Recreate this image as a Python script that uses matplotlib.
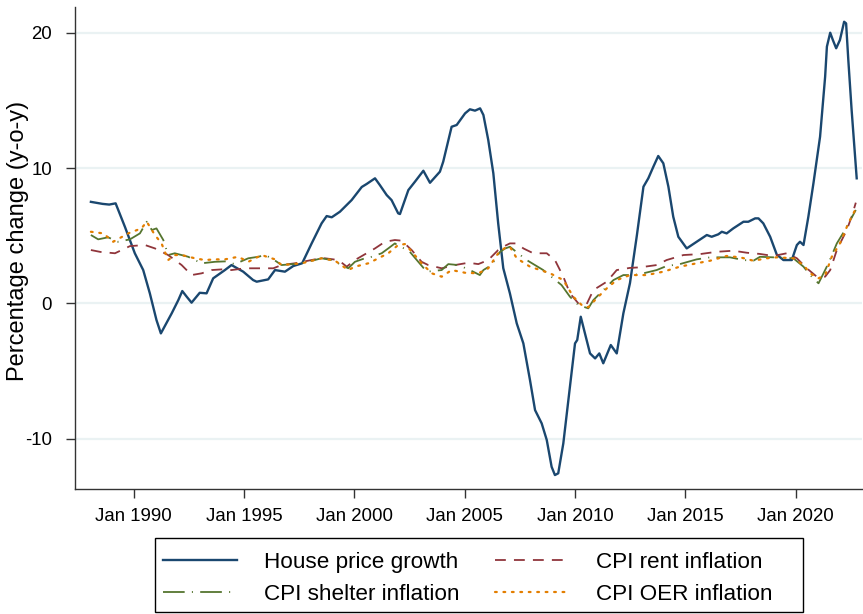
import matplotlib
matplotlib.use("Agg")
import matplotlib.pyplot as plt
from matplotlib.patches import Rectangle

plt.rcParams['font.family'] = ['Liberation Sans', 'DejaVu Sans']

# ---------------- data (decimal years, % y-o-y) ----------------
house_t = [1988.07, 1988.6, 1988.9, 1989.19, 1989.61, 1990.06, 1990.44, 1990.74, 1991.04, 1991.24,
           1991.73, 1992.03, 1992.21, 1992.41, 1992.63, 1993.0, 1993.31, 1993.61, 1994.14, 1994.44,
           1994.97, 1995.42, 1995.58, 1996.1, 1996.41, 1996.86, 1997.24, 1997.64, 1998.07, 1998.52,
           1998.75, 1998.98, 1999.35, 1999.88, 2000.34, 2000.56, 2000.94, 2001.16, 2001.47, 2001.69,
           2001.99, 2002.07, 2002.45, 2002.75, 2003.13, 2003.43, 2003.88, 2004.03, 2004.41, 2004.64,
           2005.02, 2005.24, 2005.47, 2005.70, 2005.85, 2006.07, 2006.30, 2006.52, 2006.75, 2007.05,
           2007.36, 2007.66, 2007.96, 2008.19, 2008.49, 2008.72, 2008.94, 2009.09, 2009.24, 2009.47,
           2009.77, 2010.0, 2010.1, 2010.26, 2010.45, 2010.68, 2010.91, 2011.1, 2011.28, 2011.62,
           2011.89, 2012.19, 2012.49, 2012.8, 2013.1, 2013.32, 2013.55, 2013.77, 2014.0, 2014.23,
           2014.45, 2014.68, 2015.06, 2015.51, 2015.97, 2016.19, 2016.49, 2016.65, 2016.87, 2017.17,
           2017.63, 2017.85, 2018.16, 2018.31, 2018.53, 2018.84, 2019.14, 2019.44, 2019.82, 2020.05,
           2020.19, 2020.35, 2020.57, 2020.80, 2021.10, 2021.33, 2021.41, 2021.56, 2021.68, 2021.83,
           2022.0, 2022.19, 2022.28, 2022.38, 2022.53, 2022.76]
house_v = [7.5, 7.35, 7.3, 7.39, 5.66, 3.7, 2.46, 0.74, -1.23, -2.22,
           -0.74, 0.24, 0.91, 0.49, 0.05, 0.78, 0.74, 1.85, 2.46, 2.83,
           2.34, 1.72, 1.6, 1.77, 2.46, 2.34, 2.76, 2.96, 4.43, 5.91,
           6.45, 6.36, 6.77, 7.63, 8.6, 8.82, 9.24, 8.74, 8.0, 7.63,
           6.65, 6.6, 8.37, 8.99, 9.8, 8.91, 9.73, 10.47, 13.05, 13.18,
           14.04, 14.34, 14.24, 14.41, 13.92, 12.07, 9.61, 5.91, 2.6, 0.74,
           -1.48, -2.96, -5.67, -7.89, -8.87, -10.1, -12.08, -12.69, -12.56, -10.35,
           -6.16, -2.96, -2.71, -0.99, -2.22, -3.70, -4.07, -3.70, -4.43, -3.08,
           -3.70, -0.74, 1.5, 5.0, 8.62, 9.24, 10.1, 10.89, 10.35, 8.62,
           6.4, 4.92, 4.06, 4.55, 5.05, 4.92, 5.1, 5.29, 5.17, 5.54,
           6.03, 6.03, 6.28, 6.28, 5.91, 4.92, 3.6, 3.2, 3.2, 4.31,
           4.55, 4.31, 6.4, 8.87, 12.31, 16.75, 18.97, 20.0, 19.46, 18.85,
           19.46, 20.81, 20.69, 17.98, 14.29, 9.24]

rent_t = [1988.07, 1988.5, 1989.16, 1989.84, 1990.52, 1990.97, 1991.57, 1992.18, 1992.63, 1993.09,
          1993.54, 1994.0, 1994.44, 1995.05, 1995.65, 1996.33, 1996.71, 1997.31, 1998.22, 1998.67,
          1999.28, 1999.66, 2000.03, 2000.56, 2000.94, 2001.39, 2001.84, 2002.15, 2002.6, 2003.05,
          2003.35, 2003.96, 2004.56, 2005.17, 2005.62, 2006.07, 2006.52, 2006.83, 2007.05, 2007.36,
          2007.66, 2008.11, 2008.72, 2009.09, 2009.47, 2009.77, 2010.15, 2010.53, 2010.83, 2011.44,
          2011.89, 2012.49, 2012.94, 2013.7, 2014.15, 2014.91, 2015.66, 2016.42, 2017.17, 2017.78,
          2018.38, 2018.98, 2019.59, 2020.05, 2020.5, 2020.95, 2021.33, 2021.56, 2021.86, 2022.31,
          2022.53, 2022.72]
rent_v = [3.94, 3.8, 3.7, 4.23, 4.31, 4.06, 3.57, 2.83, 2.09, 2.22,
          2.46, 2.51, 2.46, 2.59, 2.59, 2.59, 2.83, 2.96, 3.25, 3.33,
          3.2, 2.71, 3.2, 3.7, 4.06, 4.55, 4.68, 4.63, 3.94, 3.07,
          2.83, 2.59, 2.83, 3.0, 2.9, 3.2, 3.94, 4.25, 4.43, 4.43,
          4.06, 3.7, 3.7, 3.2, 1.97, 0.74, 0.0, -0.05, 0.98, 1.6,
          2.46, 2.62, 2.66, 2.83, 3.2, 3.57, 3.64, 3.81, 3.89, 3.74,
          3.65, 3.5, 3.7, 3.33, 2.59, 1.97, 1.97, 2.46, 3.94, 5.42,
          6.4, 7.44]

shelter_t = [1988.07, 1988.4, 1988.85, 1989.3, 1989.84, 1990.29, 1990.6, 1990.83, 1991.04, 1991.35,
             1991.57, 1991.87, 1992.48, 1992.78, 1993.09, 1993.69, 1994.14, 1994.59, 1995.2, 1995.65,
             1995.95, 1996.26, 1996.71, 1997.62, 1998.52, 1998.98, 1999.43, 1999.73, 2000.03, 2000.48,
             2000.79, 2001.24, 2001.54, 2001.84, 2002.07, 2002.45, 2002.9, 2003.28, 2003.96, 2004.26,
             2004.71, 2005.24, 2005.69, 2005.85, 2006.22, 2006.6, 2006.83, 2007.05, 2007.81, 2008.56,
             2009.39, 2009.77, 2010.15, 2010.6, 2010.83, 2011.21, 2011.74, 2012.19, 2012.64, 2013.1,
             2013.7, 2014.15, 2014.75, 2015.51, 2016.12, 2017.02, 2017.63, 2018.08, 2018.38, 2018.98,
             2019.89, 2020.35, 2020.65, 2021.03, 2021.18, 2021.48, 2021.86, 2022.23, 2022.72]
shelter_v = [5.05, 4.73, 4.88, 4.55, 4.73, 5.17, 6.03, 5.42, 5.54, 4.68,
             3.57, 3.7, 3.44, 3.2, 2.96, 3.07, 3.1, 2.9, 3.33, 3.44,
             3.57, 3.33, 2.83, 2.96, 3.33, 3.2, 2.83, 2.59, 3.07, 3.33,
             3.44, 3.7, 4.06, 4.43, 4.18, 3.94, 3.07, 2.34, 2.46, 2.9,
             2.83, 2.46, 2.09, 2.46, 2.83, 3.8, 4.05, 4.18, 3.2, 2.46,
             1.35, 0.49, -0.12, -0.37, 0.24, 0.86, 1.72, 2.09, 2.09, 2.22,
             2.46, 2.76, 2.9, 3.25, 3.4, 3.4, 3.2, 3.15, 3.44, 3.4,
             3.33, 2.71, 2.09, 1.48, 1.97, 2.96, 4.43, 5.42, 6.9]

oer_t = [1988.07, 1988.63, 1989.08, 1989.76, 1990.36, 1990.6, 1990.97, 1991.27, 1991.57, 1991.87,
         1992.18, 1992.78, 1993.23, 1993.69, 1994.14, 1994.74, 1995.2, 1995.8, 1996.41, 1996.71,
         1997.62, 1998.52, 1999.13, 1999.73, 2000.03, 2000.64, 2001.09, 2001.54, 2001.99, 2002.3,
         2002.67, 2003.05, 2003.51, 2003.96, 2004.41, 2005.02, 2005.62, 2006.07, 2006.52, 2006.83,
         2007.05, 2007.36, 2007.96, 2008.87, 2009.47, 2009.92, 2010.3, 2010.6, 2010.98, 2011.44,
         2011.89, 2012.49, 2013.25, 2014.0, 2014.75, 2015.51, 2016.12, 2016.87, 2017.48, 2018.08,
         2018.69, 2019.14, 2019.89, 2020.35, 2020.65, 2021.03, 2021.33, 2021.63, 2022.0, 2022.38,
         2022.69]
oer_v = [5.29, 5.17, 4.55, 5.17, 5.54, 6.03, 5.05, 4.43, 3.2, 3.57,
         3.57, 3.33, 3.2, 3.25, 3.25, 3.44, 3.07, 3.57, 3.25, 2.83,
         2.96, 3.33, 3.15, 2.46, 2.71, 2.96, 3.33, 3.7, 4.31, 4.38,
         3.7, 2.96, 2.22, 1.97, 2.46, 2.26, 2.22, 2.59, 3.7, 4.1,
         4.18, 3.33, 2.71, 2.22, 1.72, 0.49, -0.12, -0.29, 0.37, 1.11,
         1.72, 2.09, 2.09, 2.34, 2.71, 2.96, 3.15, 3.5, 3.4, 3.15,
         3.33, 3.4, 3.33, 2.83, 2.22, 1.85, 2.09, 3.44, 4.43, 5.91,
         6.9]

x_ticks = [1990, 1995, 2000, 2005, 2010, 2015, 2020]
x_ticklabels = ["Jan 1990", "Jan 1995", "Jan 2000", "Jan 2005", "Jan 2010", "Jan 2015", "Jan 2020"]
y_ticks = [-10, 0, 10, 20]
labels = ["House price growth", "CPI rent inflation", "CPI shelter inflation", "CPI OER inflation"]

# ---------------- styling ----------------
c_house = "#1a476f"
c_rent = "#90353b"
c_shelter = "#55752f"
c_oer = "#e37e00"

W, H = 863, 614
fig = plt.figure(figsize=(W / 100, H / 100), dpi=100)
fig.patch.set_facecolor("white")
ax = fig.add_axes([75 / W, 1 - 489 / H, (862 - 75) / W, (489 - 7) / H])

ax.set_xlim(1987.35, 2023.0)
ax.set_ylim(-13.72, 21.9)

for y in y_ticks:
    ax.axhline(y, color="#eaf2f3", lw=1.6, zorder=0)

l1, = ax.plot(house_t, house_v, color=c_house, lw=1.7, solid_joinstyle="round", zorder=2)
l2, = ax.plot(rent_t, rent_v, color=c_rent, lw=1.3, dashes=(6, 4.5), zorder=3)
l3, = ax.plot(shelter_t, shelter_v, color=c_shelter, lw=1.3, dashes=(12, 4, 0.6, 4), zorder=4)
l4, = ax.plot(oer_t, oer_v, color=c_oer, lw=1.6, dashes=(0.8, 3.0), dash_capstyle="round", zorder=5)

ax.set_xticks(x_ticks)
ax.set_xticklabels(x_ticklabels)
ax.set_yticks(y_ticks)
ax.set_yticklabels([str(v) for v in y_ticks])
ax.tick_params(axis="both", direction="out", length=6.5, width=1.0, color="#333333",
               labelsize=13.4, labelcolor="black")
ax.tick_params(axis="x", pad=7)
ax.tick_params(axis="y", pad=10)

for s in ["top", "right"]:
    ax.spines[s].set_visible(False)
for s in ["left", "bottom"]:
    ax.spines[s].set_color("#333333")
    ax.spines[s].set_linewidth(1.0)

fig.text(18 / W, 1 - 241 / H, "Percentage change (y-o-y)", rotation=90, fontsize=17,
         ha="center", va="center")

# legend frame
fig.add_artist(Rectangle((155 / W, 1 - 612 / H), (803 - 155) / W, (612 - 538) / H,
                         transform=fig.transFigure, fill=False, edgecolor="black", lw=1.0))

handles = [l1, l3, l2, l4]
leg_labels = [labels[0], labels[2], labels[1], labels[3]]
leg = fig.legend(handles, leg_labels, loc="upper left",
                 bbox_to_anchor=(163 / W, 1 - 552 / H),
                 ncol=2, fontsize=16.2, frameon=False,
                 handlelength=3.3, handletextpad=1.2, columnspacing=1.55,
                 labelspacing=0.5, borderpad=0.0, borderaxespad=0)

fig.savefig("out.png", dpi=100, facecolor="white")
